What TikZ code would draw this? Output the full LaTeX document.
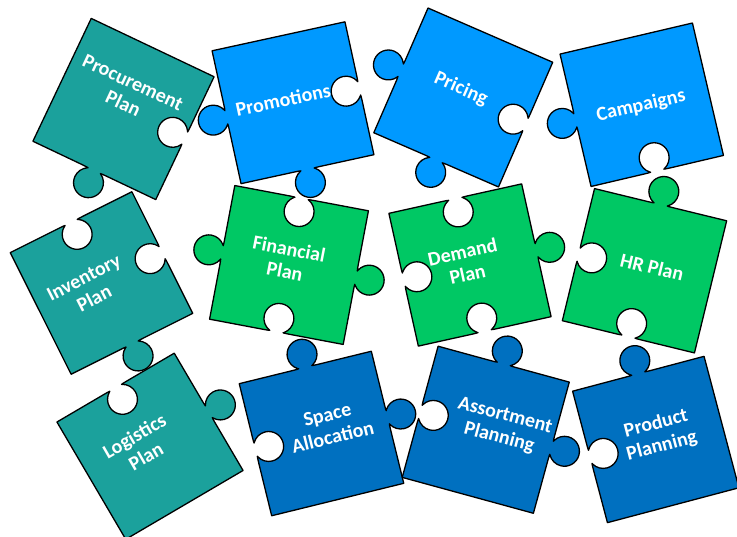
\documentclass[tikz,border=0pt]{standalone}
\usepackage{fontspec}
\setmainfont{Carlito}
\definecolor{tealP}{HTML}{1BA19C}
\definecolor{lblueP}{HTML}{0099FF}
\definecolor{greenP}{HTML}{00C864}
\definecolor{dblueP}{HTML}{0070C0}
% one edge of a jigsaw piece, local frame: piece is the unit square centred at origin
% #1 = rotation of the edge (0 top, -90 right, -180 bottom, -270 left), #2 = 1 tab, -1 blank, 0 flat
\newcommand\pedge[2]{%
  -- ([rotate=#1]-0.13,0.5)
  .. controls ([rotate=#1]-0.07,0.5) and ([rotate=#1]-0.035,0.5) ..
  ([rotate=#1]-0.055,{0.5+0.0047*(#2)})
  .. controls ([rotate=#1]-0.089,{0.5+0.0244*(#2)}) and ([rotate=#1]-0.11,{0.5+0.0607*(#2)}) ..
  ([rotate=#1]-0.11,{0.5+0.1*(#2)})
  .. controls ([rotate=#1]-0.11,{0.5+0.1608*(#2)}) and ([rotate=#1]-0.0608,{0.5+0.21*(#2)}) ..
  ([rotate=#1]0,{0.5+0.21*(#2)})
  .. controls ([rotate=#1]0.0608,{0.5+0.21*(#2)}) and ([rotate=#1]0.11,{0.5+0.1608*(#2)}) ..
  ([rotate=#1]0.11,{0.5+0.1*(#2)})
  .. controls ([rotate=#1]0.11,{0.5+0.0607*(#2)}) and ([rotate=#1]0.089,{0.5+0.0244*(#2)}) ..
  ([rotate=#1]0.055,{0.5+0.0047*(#2)})
  .. controls ([rotate=#1]0.035,0.5) and ([rotate=#1]0.07,0.5) ..
  ([rotate=#1]0.13,0.5)
  -- ([rotate=#1]0.5,0.5)}
% #1 x, #2 y, #3 rotation, #4 colour, #5 top, #6 right, #7 bottom, #8 left
\newcommand\jig[8]{%
  \begin{scope}[shift={(#1,#2)}, rotate=#3, scale=136]
    \path[piece, fill=#4] (-0.5,0.5) \pedge{0}{#5} \pedge{-90}{#6} \pedge{-180}{#7} \pedge{-270}{#8} -- cycle;
  \end{scope}}
\begin{document}
\begin{tikzpicture}[x=1pt, y=1pt,
  piece/.style={draw=black, line width=1.3pt, line join=round},
  lbl/.style={text=white, font=\bfseries\fontsize{20}{23}\selectfont, align=center, inner sep=0pt}]
\useasboundingbox (0,0) rectangle (737,-537);
% row 1
\jig{123.5}{-109}{-25.4}{tealP}{0}{-1}{1}{0}
\jig{293}{-102.75}{12.3}{lblueP}{0}{-1}{1}{1}
\jig{463.25}{-97.5}{-23.5}{lblueP}{0}{-1}{1}{1}
\jig{641.75}{-104.75}{13.2}{lblueP}{0}{0}{-1}{1}
% row 2
\jig{101.5}{-283}{26.6}{tealP}{-1}{-1}{1}{0}
\jig{289}{-265}{-10.7}{greenP}{-1}{1}{-1}{1}
\jig{470}{-265}{12.5}{greenP}{-1}{1}{-1}{-1}
\jig{644.5}{-270.75}{-13.7}{greenP}{1}{0}{-1}{-1}
% row 3
\jig{150}{-446.25}{30.4}{tealP}{-1}{1}{0}{0}
\jig{321.5}{-433.5}{13.8}{dblueP}{1}{1}{0}{-1}
\jig{485.75}{-429.75}{-15.3}{dblueP}{1}{1}{0}{-1}
\jig{655.75}{-439.5}{14.85}{dblueP}{1}{0}{0}{-1}
% labels
\node[lbl, rotate=-25] (t1) at (128,-93) {Procurement\\Plan};
\node[lbl, rotate=12] (t2) at (283,-100) {Promotions};
\node[lbl, rotate=-23.5] (t3) at (461,-89) {Pricing};
\node[lbl, rotate=13] (t4) at (641,-106) {Campaigns};
\node[lbl, rotate=27] (t5) at (89,-288) {Inventory\\Plan};
\node[lbl, rotate=-11] (t6) at (287,-260) {Financial\\Plan};
\node[lbl, rotate=12.5] (t7) at (465,-263) {Demand\\Plan};
\node[lbl, rotate=-13.7] (t8) at (652,-267) {HR Plan};
\node[lbl, rotate=30] (t9) at (140,-446) {Logistics\\Plan};
\node[lbl, rotate=13.8] (t10) at (330,-426) {Space\\Allocation};
\node[lbl, rotate=-15] (t11) at (502,-427) {Assortment\\Planning};
\node[lbl, rotate=14.8] (t12) at (659,-435) {Product\\Planning};
\end{tikzpicture}
\end{document}
